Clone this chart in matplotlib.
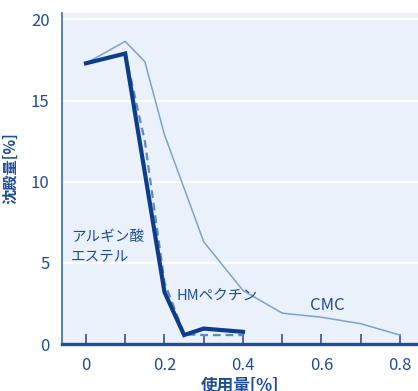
import matplotlib
matplotlib.use("Agg")
import matplotlib.pyplot as plt

plt.rcParams['font.family'] = ['Noto Sans CJK JP', 'DejaVu Sans']

# data
alginate_x = [0, 0.1, 0.2, 0.25, 0.3, 0.4]
alginate_y = [17.3, 17.9, 3.2, 0.55, 0.95, 0.75]

pectin_x = [0.1, 0.15, 0.2, 0.25, 0.3, 0.4]
pectin_y = [17.9, 12.5, 3.8, 0.6, 0.55, 0.55]

cmc_x = [0, 0.1, 0.15, 0.2, 0.3, 0.4, 0.5, 0.6, 0.7, 0.8]
cmc_y = [17.3, 18.65, 17.4, 12.9, 6.3, 3.3, 1.9, 1.65, 1.25, 0.55]

x_ticks = [0, 0.1, 0.2, 0.3, 0.4, 0.5, 0.6, 0.7, 0.8]
x_labels = ['0', '', '0.2', '', '0.4', '', '0.6', '', '0.8']
y_ticks = [0, 5, 10, 15, 20]

navy = '#0b3d8c'
text_col = '#1f4e96'

fig = plt.figure(figsize=(4.18, 3.91), dpi=100)
ax = fig.add_axes([0.1483, 0.1202, 0.8517, 0.8466])
ax.set_facecolor('#eaf1fa')

for y in y_ticks[1:]:
    ax.axhline(y, color='white', lw=1.6, zorder=1)

ax.plot(cmc_x, cmc_y, color='#7aa3d2', lw=1.1, zorder=3)
ax.plot(pectin_x, pectin_y, color='#5f87c2', lw=1.6, ls=(0, (3.5, 2.2)), zorder=4)
ax.plot(alginate_x, alginate_y, color=navy, lw=3.0, zorder=5, solid_joinstyle='miter')

ax.set_xlim(-0.0611, 0.8459)
ax.set_ylim(0, 20.4)

ax.set_xticks(x_ticks)
ax.set_xticklabels(x_labels)
ax.set_yticks(y_ticks)
ax.tick_params(axis='x', direction='in', length=7, width=1.4, color='#3d6cae',
               labelsize=12, labelcolor=text_col, pad=9)
ax.tick_params(axis='y', length=0, labelsize=12, labelcolor=text_col, pad=9)

for s in ['top', 'right']:
    ax.spines[s].set_visible(False)
ax.spines['left'].set_color('#4a78b5')
ax.spines['left'].set_linewidth(1.3)
ax.spines['bottom'].set_color('#1f4e96')
ax.spines['bottom'].set_linewidth(2.4)

ax.set_xlabel('使用量[%]', fontsize=12, fontweight='bold', color=text_col)
ax.xaxis.set_label_coords(0.5, -0.1)
ax.set_ylabel('沈殿量[%]', fontsize=11, fontweight='bold', color=text_col)
ax.yaxis.set_label_coords(-0.123, 0.53)

ax.text(-0.038, 6.0, 'アルギン酸\nエステル', fontsize=10.5, color=text_col,
        va='center', ha='left', linespacing=1.55)
ax.text(0.23, 2.95, 'HMペクチン', fontsize=10.5, color=text_col, va='center', ha='left')
ax.text(0.614, 2.4, 'CMC', fontsize=12, color=text_col, va='center', ha='center')

fig.savefig('out.png', dpi=100)
